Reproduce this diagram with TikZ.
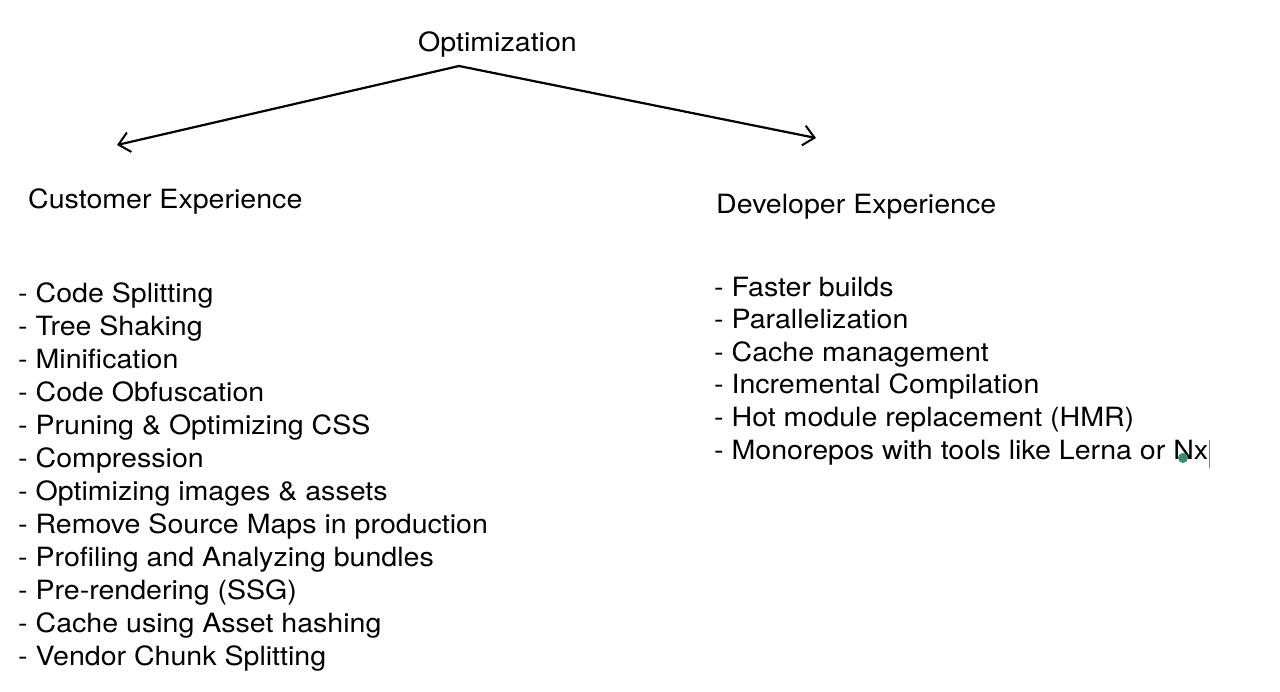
\documentclass[tikz,border=0pt]{standalone}
\usepackage{fontspec}
\setmainfont{TeX Gyre Heros}[FakeStretch=1.078]
\usetikzlibrary{arrows.meta}
\definecolor{cursorgreen}{HTML}{3B8A74}
\begin{document}
\begin{tikzpicture}[x=1pt,y=-1pt,
  lbl/.style={anchor=base west,inner sep=0pt,font=\fontsize{26.5}{33}\selectfont},
  conn/.style={line width=2.2pt,line cap=round,-{Straight Barb[length=11pt,width=20pt,line width=2pt]}}]
\useasboundingbox (0,0) rectangle (1280,691);
\fill[white] (0,0) rectangle (1280,691);
\node[lbl] (opt) at (418,51) {Optimization};
\node[lbl] (cust) at (28,208) {Customer Experience};
\node[lbl] (dev) at (716,213) {Developer Experience};
\coordinate (apex) at (459,66);
\coordinate (lend) at (117,145);
\coordinate (rend) at (816,138);
\draw[conn] (apex) -- (lend);
\draw[conn] (apex) -- (rend);
\foreach \t [count=\i from 0] in {Code Splitting,Tree Shaking,Minification,Code Obfuscation,Pruning \& Optimizing CSS,Compression,Optimizing images \& assets,Remove Source Maps in production,Profiling and Analyzing bundles,Pre-rendering (SSG),Cache using Asset hashing,Vendor Chunk Splitting}
  \node[lbl] (c\i) at (18,{302+\i*33.0}) {- \t};
\foreach \t [count=\i from 0] in {Faster builds,Parallelization,Cache management,Incremental Compilation,Hot module replacement (HMR),Monorepos with tools like Lerna or Nx}
  \node[lbl] (d\i) at (714,{296+\i*32.6}) {- \t};
\fill[cursorgreen] (1183,458) circle (5);
\draw[gray,line width=1pt] (1209,440) -- (1209,468);
\end{tikzpicture}
\end{document}
